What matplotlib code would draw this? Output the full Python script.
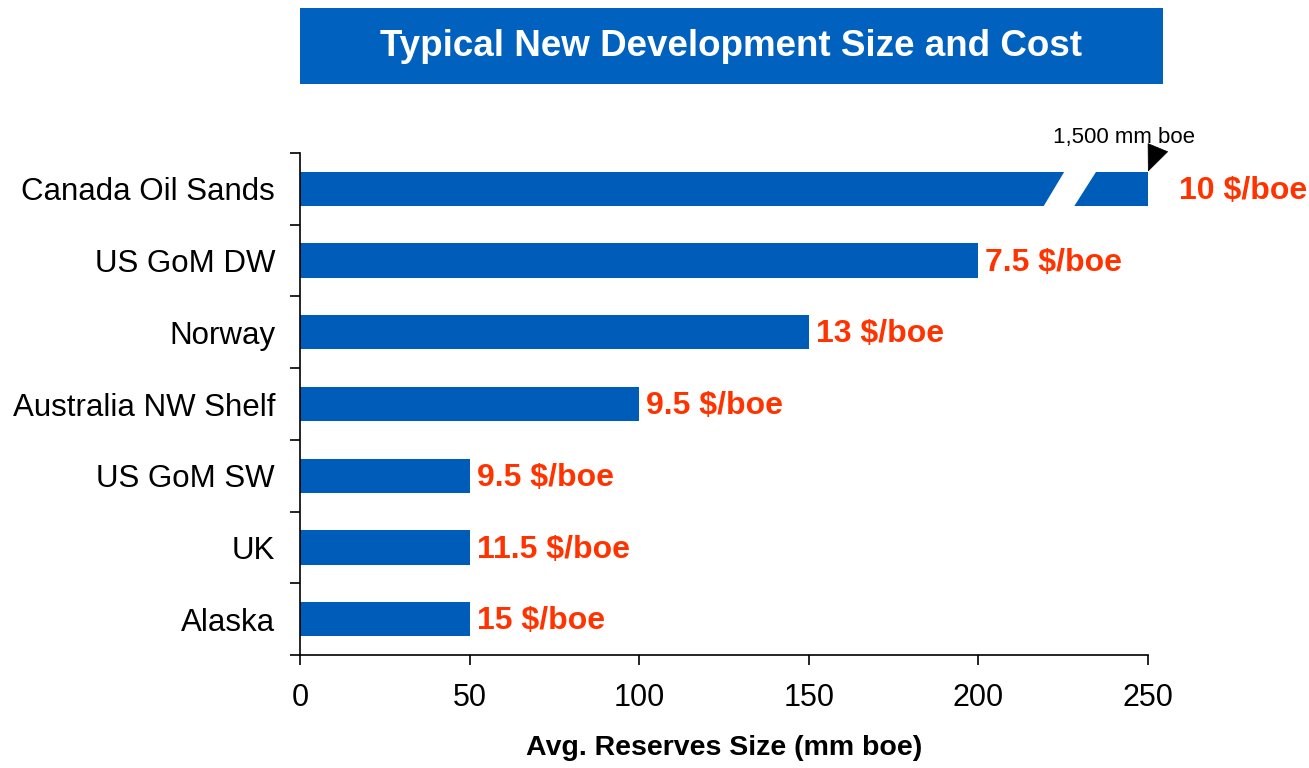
import matplotlib.pyplot as plt
import matplotlib.patches as mpatches
import numpy as np

plt.rcParams['font.family'] = ['Liberation Sans', 'DejaVu Sans']

# data, bottom to top
regions = ['Alaska', 'UK', 'US GoM SW', 'Australia NW Shelf', 'Norway', 'US GoM DW', 'Canada Oil Sands']
reserves = [50, 50, 50, 100, 150, 200, 1500]   # mm boe
cost = ['15', '11.5', '9.5', '9.5', '13', '7.5', '10']  # $/boe
x_ticks = [0, 50, 100, 150, 200, 250]

blue = '#005CB9'
orange = '#FF3300'
xmax = 250

fig = plt.figure(figsize=(13.09, 7.68), dpi=100)
ax = fig.add_axes([0.2292, 0.1471, 0.6478, 0.6537])

y = np.arange(len(regions))
ax.barh(y, reserves, height=0.48, color=blue, zorder=2)
ax.set_xlim(0, xmax)
ax.set_ylim(-0.5, len(regions) - 0.5)

# break mark on the bar that runs off the scale
for i, v in enumerate(reserves):
    if v > xmax:
        h = 0.24
        gap = mpatches.Polygon([(219.0, i - h - 0.02), (228.0, i - h - 0.02),
                                (235.0, i + h + 0.02), (225.6, i + h + 0.02)],
                               closed=True, facecolor='white', edgecolor='none', zorder=3)
        ax.add_patch(gap)
        ax.annotate('', xy=(xmax, i + h), xytext=(7, 17), textcoords='offset points',
                    arrowprops=dict(arrowstyle='-|>,head_length=0.9,head_width=0.38',
                                    mutation_scale=20, color='black', lw=0.5,
                                    shrinkA=0, shrinkB=0),
                    annotation_clip=False)
        ax.text(xmax - 7, i + 0.71, '{:,} mm boe'.format(v), fontsize=16,
                ha='center', va='center', clip_on=False)

# cost labels
for i, (v, c) in enumerate(zip(reserves, cost)):
    xv = min(v, xmax)
    off = 22 if v > xmax else 5
    ax.annotate(c + ' $/boe', xy=(xv, i), xytext=(off, -1.5), textcoords='offset points',
                ha='left', va='center', color=orange, fontsize=23, fontweight='bold',
                annotation_clip=False)

ax.spines['top'].set_visible(False)
ax.spines['right'].set_visible(False)
ax.spines['left'].set_linewidth(1.2)
ax.spines['bottom'].set_linewidth(1.2)

ax.set_xticks(x_ticks)
ax.set_xticklabels([str(t) for t in x_ticks], fontsize=22)
ax.tick_params(axis='x', length=7, width=1.2, pad=13)

ax.set_yticks(np.arange(-0.5, len(regions), 1.0))
ax.set_yticklabels([])
ax.set_yticks(y, minor=True)
ax.set_yticklabels(regions, minor=True, fontsize=22.5)
ax.tick_params(axis='y', which='major', length=7, width=1.2)
ax.tick_params(axis='y', which='minor', length=0, pad=18)

ax.set_xlabel('Avg. Reserves Size (mm boe)', fontsize=20.5, fontweight='bold', labelpad=16)

# title banner
fig.patches.append(mpatches.Rectangle((0.2292, 0.8906), 0.6593, 0.099,
                                      transform=fig.transFigure, facecolor='#0061BE',
                                      edgecolor='none'))
fig.text(0.5588, 0.940, 'Typical New Development Size and Cost', color='white',
         fontsize=26.5, fontweight='bold', ha='center', va='center')

fig.savefig('out.png', dpi=100)
